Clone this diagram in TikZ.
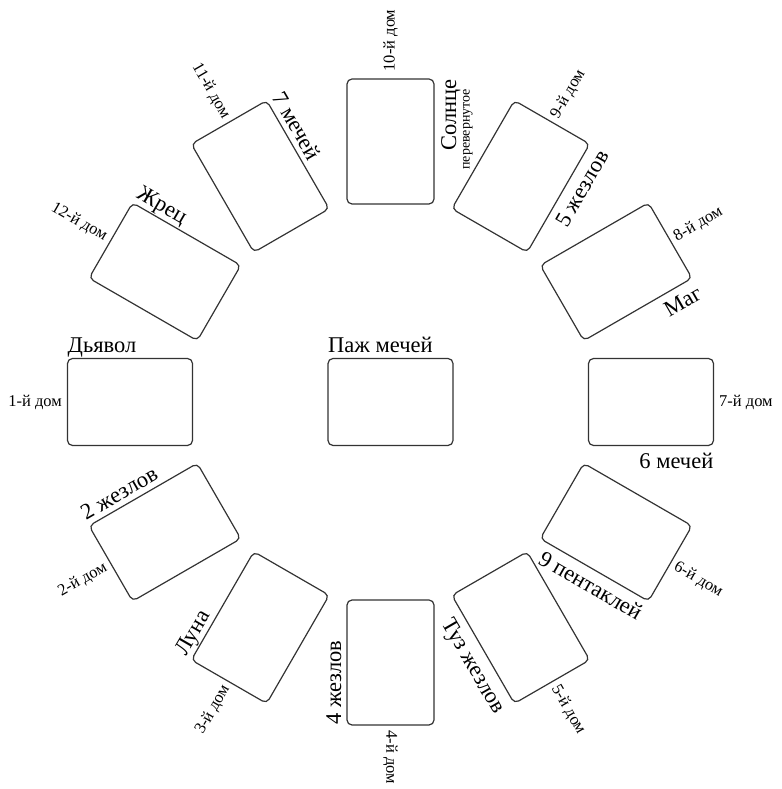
\documentclass[tikz,border=0pt]{standalone}
\usepackage{fontspec}
\setmainfont{Liberation Serif}
\begin{document}
\begin{tikzpicture}[x=1pt,y=1pt,
  card/.style={draw=black!80, line width=1.2pt, rounded corners=5pt, minimum width=125pt, minimum height=87pt, inner sep=0pt},
  cardname/.style={inner sep=0pt, font=\fontsize{22.5}{26}\selectfont},
  house/.style={inner sep=0pt, font=\fontsize{16.5}{19}\selectfont},
  small/.style={inner sep=0pt, font=\fontsize{14}{16}\selectfont}]
\path[use as bounding box] (0,0) rectangle (781,789);
\newcommand\leftcard[5]{%
 \begin{scope}[shift={(#2:260.5pt)}, rotate=#3, transform shape]
  \node[card] (#1) at (0,0) {};
  \node[cardname, anchor=base west] (#1n) at (-62.5,49.5) {#4};
  \node[house, anchor=east] (#1h) at (-68,0) {#5};
 \end{scope}}
\newcommand\rightcard[5]{%
 \begin{scope}[shift={(#2:260.5pt)}, rotate=#3, transform shape]
  \node[card] (#1) at (0,0) {};
  \node[cardname, anchor=base east] (#1n) at (62.5,-66.5) {#4};
  \node[house, anchor=west] (#1h) at (68,0) {#5};
 \end{scope}}
\begin{scope}[shift={(390.5,387)}]
 \node[card] (c0) at (0,0) {};
 \node[cardname, anchor=base west] (c0n) at (-62.5,49.5) {Паж мечей};
 \leftcard{c1}{180}{0}{Дьявол}{1-й дом}
 \leftcard{c2}{210}{30}{2 жезлов}{2-й дом}
 \leftcard{c3}{240}{60}{Луна}{3-й дом}
 \begin{scope}[shift={(270:260.5pt)}, rotate=-90, transform shape]
  \node[card] (c4) at (0,0) {};
  \node[cardname, anchor=base west, rotate=180] (c4n) at (62.5,-49.5) {4 жезлов};
  \node[house, anchor=west] (c4h) at (68,0) {4-й дом};
 \end{scope}
 \rightcard{c5}{300}{-60}{Туз жезлов}{5-й дом}
 \rightcard{c6}{330}{-30}{9 пентаклей}{6-й дом}
 \rightcard{c7}{0}{0}{6 мечей}{7-й дом}
 \rightcard{c8}{30}{30}{Маг}{8-й дом}
 \rightcard{c9}{60}{60}{5 жезлов}{9-й дом}
 \begin{scope}[shift={(90:260.5pt)}, rotate=90, transform shape]
  \node[card] (c10) at (0,0) {};
  \node[cardname, anchor=base east] (c10n) at (62.5,-65.5) {Солнце};
  \node[small, anchor=base east] (c10m) at (52.5,-79) {перевернутое};
  \node[house, anchor=west] (c10h) at (70,0) {10-й дом};
 \end{scope}
 \leftcard{c11}{120}{-60}{7 мечей}{11-й дом}
 \leftcard{c12}{150}{-30}{Жрец}{12-й дом}
\end{scope}
\end{tikzpicture}
\end{document}
